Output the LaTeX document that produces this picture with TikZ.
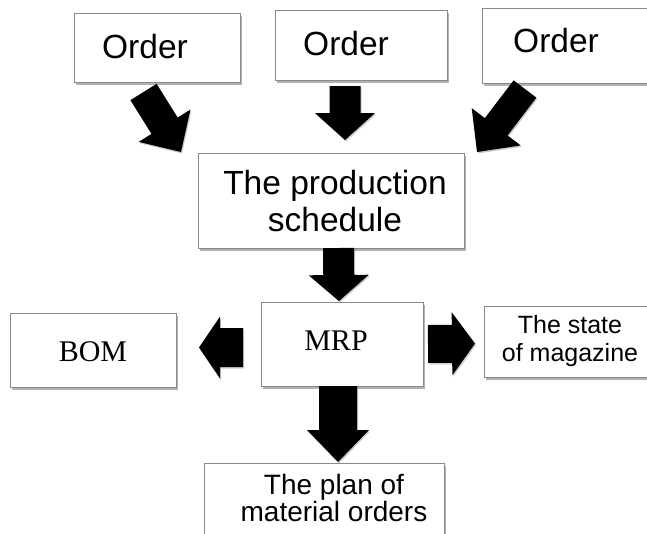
\documentclass[tikz,border=0pt]{standalone}
\usepackage{fontspec}
\setmainfont{Liberation Sans}
\newfontfamily\seriff{Liberation Serif}
\usetikzlibrary{calc,shadows}
\tikzset{
  box/.style={draw=boxline, line width=1pt, fill=white, inner sep=0pt, anchor=north west,
    drop shadow={shadow xshift=1.5pt, shadow yshift=-2pt, fill=black, opacity=0.3}},
  txt/.style={inner sep=0pt, align=center, text=black},
  arrowfill/.style={fill=black, drop shadow={shadow xshift=1pt, shadow yshift=-1.5pt, fill=black, opacity=0.2}}
}
\definecolor{boxline}{HTML}{8A8A8A}
\newcommand{\blockarr}[5]{%
  \coordinate (hb) at ($(#2)!#5!(#1)$);
  \path[arrowfill] ($(#1)!#3!90:(#2)$) -- ($(hb)!#3!90:(#2)$) -- ($(hb)!#4!90:(#2)$) -- (#2)
    -- ($(hb)!#4!-90:(#2)$) -- ($(hb)!#3!-90:(#2)$) -- ($(#1)!#3!-90:(#2)$) -- cycle;
}
\begin{document}
\begin{tikzpicture}[x=1pt,y=-1pt]
\useasboundingbox[fill=white] (0,0) rectangle (647,533);
% boxes
\node[box, minimum width=166pt, minimum height=69pt] (o1) at (74,13) {};
\node[box, minimum width=172pt, minimum height=70pt] (o2) at (275,10) {};
\node[box, minimum width=172pt, minimum height=75pt] (o3) at (482,8) {};
\node[box, minimum width=266pt, minimum height=95pt] (ps) at (198,153) {};
\node[box, minimum width=162pt, minimum height=84pt] (mrp) at (261,302) {};
\node[box, minimum width=166pt, minimum height=74pt] (bom) at (10,313) {};
\node[box, minimum width=170pt, minimum height=71pt] (st) at (484,306) {};
\node[box, minimum width=240pt, minimum height=80pt] (pl) at (204,463) {};
% texts
\node[txt, font=\fontsize{33.5}{37}\selectfont] (t1) at (145,47) {Order};
\node[txt, font=\fontsize{33.5}{37}\selectfont] (t2) at (346,44) {Order};
\node[txt, font=\fontsize{33.5}{37}\selectfont] (t3) at (556,41) {Order};
\node[txt, font=\fontsize{33.5}{37}\selectfont] (tps) at (335,201) {The production\\schedule};
\node[txt, font=\seriff\fontsize{30}{34}\selectfont] (tm) at (336,341) {MRP};
\node[txt, font=\seriff\fontsize{30}{34}\selectfont] (tb) at (93,352) {BOM};
\node[txt, font=\fontsize{25}{28}\selectfont] (ts) at (570,341) {The state\\of magazine};
\node[txt, font=\fontsize{28}{27}\selectfont] (tp) at (334,498) {The plan of\\material orders};
% arrow anchors
\coordinate (a1t) at (143.5,92);  \coordinate (a1h) at (181,152);
\coordinate (a2t) at (345,86);    \coordinate (a2h) at (345,140);
\coordinate (a3t) at (525,89);    \coordinate (a3h) at (477,152);
\coordinate (a4t) at (338.5,248); \coordinate (a4h) at (339,301);
\coordinate (a5t) at (338,386);   \coordinate (a5h) at (338,462);
\coordinate (a6t) at (243,347.5); \coordinate (a6h) at (199,347.5);
\coordinate (a7t) at (428,344);   \coordinate (a7h) at (475,343.5);
\blockarr{a1t}{a1h}{15.4pt}{30.5pt}{31pt}
\blockarr{a2t}{a2h}{15.5pt}{30pt}{27pt}
\blockarr{a3t}{a3h}{14.3pt}{30.8pt}{31.7pt}
\blockarr{a4t}{a4h}{15.5pt}{30pt}{26pt}
\blockarr{a5t}{a5h}{19pt}{31pt}{32pt}
\blockarr{a6t}{a6h}{19.5pt}{31pt}{21pt}
\blockarr{a7t}{a7h}{19pt}{31.5pt}{23pt}
\end{tikzpicture}
\end{document}
